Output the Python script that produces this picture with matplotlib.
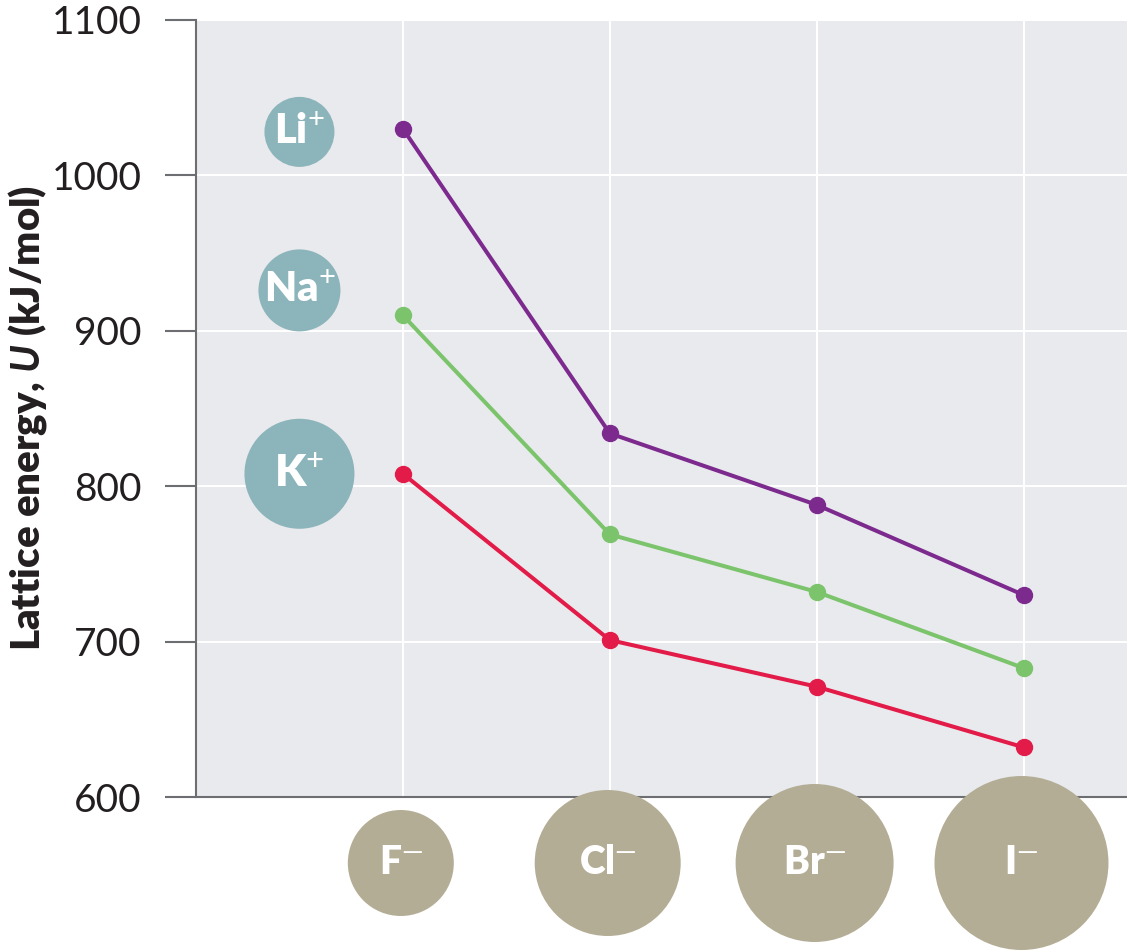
import matplotlib
matplotlib.use("Agg")
import matplotlib.pyplot as plt
from matplotlib.patches import Ellipse

# data (kJ/mol)
anions = ["F", "Cl", "Br", "I"]
cations = ["Li", "Na", "K"]
li_vals = [1030, 834, 788, 730]
na_vals = [910, 769, 732, 683]
k_vals = [808, 701, 671, 632]
yticks = [600, 700, 800, 900, 1000, 1100]

# ion bubble sizes (pixels) and cation label heights
anion_r = [53, 73, 79, 87]
cation_r = [35, 41, 55]
cation_y = [1028, 926, 808]

colors = {"Li": "#7d2a8f", "Na": "#7bc46c", "K": "#e21b48"}
CIRC_CAT = "#8cb4bb"
CIRC_AN = "#b4ad96"
BG = "#e9eaed"
SPINE = "#6d6e71"

plt.rcParams["font.family"] = ["Lato", "DejaVu Sans"]
plt.rcParams["mathtext.fontset"] = "custom"
plt.rcParams["mathtext.rm"] = "Lato"
plt.rcParams["mathtext.it"] = "Lato:italic:bold"

W, H = 1127, 952
fig = plt.figure(figsize=(W / 100, H / 100), dpi=100)
ax = fig.add_axes([196 / W, 1 - 797 / H, 1 - 196 / W, (797 - 20) / H])
ax.set_facecolor(BG)
ax.set_xlim(0, 4.5)
ax.set_ylim(600, 1100)

xs = [1, 2, 3, 4]
for name, vals in zip(cations, [li_vals, na_vals, k_vals]):
    ax.plot(xs, vals, color=colors[name], lw=2.9, marker="o", ms=11.5,
            zorder=4, solid_capstyle="round")

ax.set_yticks(yticks)
ax.set_yticklabels([str(v) for v in yticks], fontsize=28, color="#231f20")
ax.set_xticks(xs)
ax.set_xticklabels([])
ax.tick_params(axis="y", length=22, width=1.5, color=SPINE, pad=17)
ax.tick_params(axis="x", length=0)
ax.grid(True, color="white", lw=1.5)
ax.set_axisbelow(True)
for s in ["top", "right"]:
    ax.spines[s].set_visible(False)
for s in ["left", "bottom"]:
    ax.spines[s].set_color(SPINE)
    ax.spines[s].set_linewidth(1.5)

# pixels per data unit, for round bubbles
px_x = (W - 196) / 4.5
px_y = (797 - 20) / 500.0

# cation bubbles
for name, r, yc in zip(cations, cation_r, cation_y):
    ax.add_patch(Ellipse((0.5, yc), 2 * r / px_x, 2 * r / px_y,
                         color=CIRC_CAT, lw=0, zorder=3))
    fs = 30 if name != "K" else 32
    ax.text(0.5, yc, name + r"$^{\mathrm{+}}$", ha="center", va="center",
            fontsize=fs, fontweight="heavy", color="white", zorder=5)

# anion bubbles below the axis
an_y = 600 - (863 - 797) / px_y
for name, r, x in zip(anions, anion_r, xs):
    ax.add_patch(Ellipse((x - 0.01, an_y), 2 * r / px_x, 2 * r / px_y,
                         color=CIRC_AN, lw=0, zorder=6, clip_on=False))
    ax.text(x - 0.01, an_y, name + "$^{\u2014}$", ha="center", va="center",
            fontsize=28, fontweight="heavy", color="white", zorder=7,
            clip_on=False)

fig.text(28 / W, 1 - 418 / H, r"Lattice energy, $U$ (kJ/mol)",
         rotation=90, ha="center", va="center", fontsize=29,
         fontweight="heavy", color="#231f20")

fig.savefig("out.png", dpi=100)
